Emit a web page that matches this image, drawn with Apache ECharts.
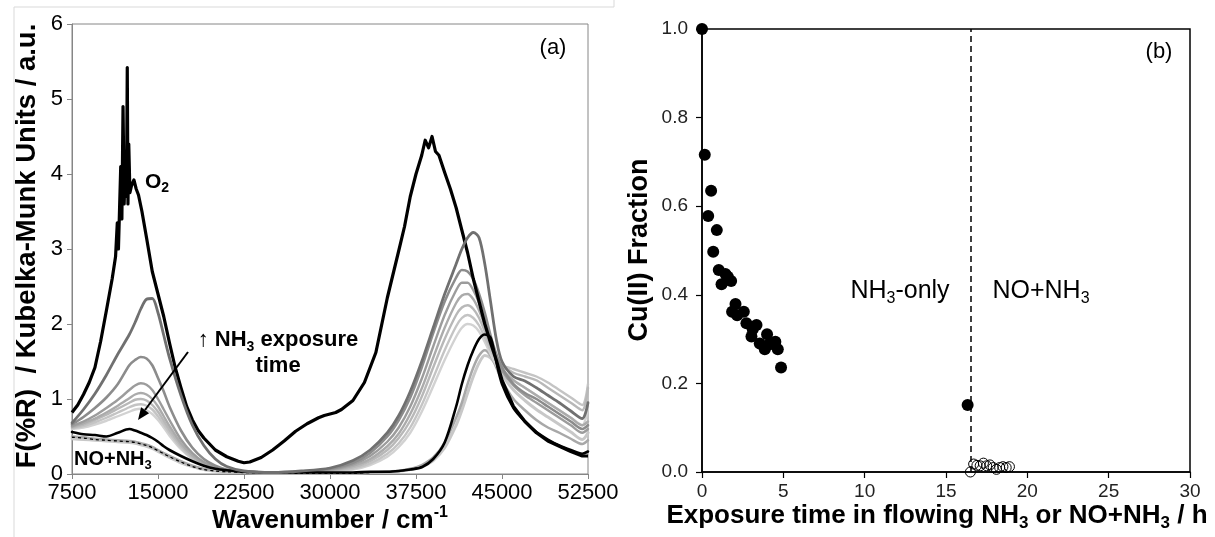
<!DOCTYPE html>
<html><head><meta charset="utf-8">
<script src="https://cdn.jsdelivr.net/npm/echarts@6/dist/echarts.min.js"></script>
<style>html,body{margin:0;padding:0;background:#fff}#c{width:1215px;height:537px}</style>
</head><body><div id="c"></div>
<script>
// ---------- Panel (a): diffuse reflectance spectra ----------
const wn = [7500, 8500, 9500, 10500, 11500, 12500, 13000, 13500, 14000, 14500, 15000, 15500, 16000, 17000, 18000, 19000, 20000, 21000, 22500, 25000, 27500, 30000, 32000, 33500, 35000, 36000, 37000, 38000, 39000, 40000, 41000, 41500, 42000, 42500, 43000, 43500, 44000, 44500, 45000, 46000, 47000, 48000, 49000, 50000, 51000, 52000, 52500];
const o2Wn = [7500, 8000, 8500, 9000, 9500, 10000, 10500, 11000, 11300, 11450, 11550, 11650, 11750, 11850, 11950, 12050, 12150, 12250, 12320, 12380, 12450, 12550, 12700, 12900, 13100, 13300, 13600, 14000, 14500, 15000, 15500, 16000, 16500, 17000, 17500, 18000, 18500, 19000, 19500, 20000, 21000, 22000, 22500, 23000, 24000, 25000, 26000, 27000, 28000, 29000, 29500, 30000, 30500, 31000, 32000, 33000, 34000, 35000, 36000, 36500, 37000, 37500, 38000, 38300, 38600, 38900, 39200, 39500, 40000, 40500, 41000, 41500, 42000, 42500, 43000, 43500, 44000, 44500, 45000, 46000, 47000, 48000, 49000, 50000, 51000, 52000, 52500];
const o2Val = [0.82, 0.92, 1.06, 1.22, 1.42, 1.77, 2.18, 2.60, 2.90, 3.35, 3.00, 3.55, 4.10, 3.40, 4.90, 3.60, 4.20, 3.70, 5.42, 3.60, 4.40, 3.75, 3.85, 3.92, 3.80, 3.72, 3.50, 3.15, 2.70, 2.40, 2.10, 1.75, 1.42, 1.15, 0.90, 0.72, 0.58, 0.48, 0.40, 0.32, 0.23, 0.17, 0.15, 0.16, 0.22, 0.32, 0.44, 0.57, 0.67, 0.75, 0.78, 0.80, 0.82, 0.86, 0.98, 1.22, 1.62, 2.35, 2.98, 3.30, 3.70, 4.00, 4.25, 4.45, 4.35, 4.50, 4.30, 4.25, 4.02, 3.80, 3.55, 3.25, 2.95, 2.60, 2.30, 2.00, 1.75, 1.52, 1.25, 0.90, 0.70, 0.55, 0.44, 0.37, 0.30, 0.24, 0.24];
const nh3t1 = [0.68, 0.86, 1.07, 1.32, 1.60, 1.86, 2.02, 2.20, 2.33, 2.34, 2.15, 1.85, 1.55, 1.05, 0.65, 0.38, 0.20, 0.10, 0.04, 0.02, 0.04, 0.08, 0.18, 0.32, 0.55, 0.78, 1.10, 1.50, 1.95, 2.40, 2.80, 3.00, 3.15, 3.22, 3.15, 2.80, 2.30, 1.80, 1.50, 1.30, 1.24, 1.15, 1.05, 0.95, 0.84, 0.74, 0.95];
const nh3t2 = [0.66, 0.76, 0.88, 1.02, 1.20, 1.45, 1.52, 1.56, 1.54, 1.45, 1.28, 1.10, 0.90, 0.58, 0.35, 0.20, 0.11, 0.06, 0.03, 0.02, 0.03, 0.07, 0.15, 0.28, 0.50, 0.72, 1.02, 1.42, 1.88, 2.30, 2.62, 2.72, 2.70, 2.60, 2.40, 2.15, 1.85, 1.60, 1.42, 1.20, 1.08, 1.00, 0.90, 0.80, 0.70, 0.60, 0.65];
const nh3t3 = [0.64, 0.70, 0.78, 0.88, 0.99, 1.12, 1.18, 1.21, 1.19, 1.12, 1.00, 0.86, 0.72, 0.46, 0.28, 0.16, 0.09, 0.05, 0.03, 0.02, 0.03, 0.06, 0.13, 0.24, 0.43, 0.62, 0.90, 1.27, 1.70, 2.12, 2.45, 2.55, 2.55, 2.45, 2.28, 2.05, 1.78, 1.55, 1.38, 1.18, 1.05, 0.95, 0.85, 0.75, 0.65, 0.55, 0.60];
const nh3t4 = [0.63, 0.68, 0.74, 0.82, 0.91, 1.01, 1.06, 1.08, 1.06, 1.00, 0.90, 0.77, 0.64, 0.41, 0.25, 0.14, 0.08, 0.05, 0.03, 0.02, 0.03, 0.05, 0.11, 0.20, 0.37, 0.54, 0.80, 1.14, 1.55, 1.95, 2.28, 2.38, 2.40, 2.33, 2.18, 1.98, 1.74, 1.55, 1.40, 1.25, 1.15, 1.05, 0.95, 0.85, 0.75, 0.65, 0.70];
const nh3t5 = [0.62, 0.66, 0.72, 0.79, 0.87, 0.95, 0.99, 1.00, 0.98, 0.92, 0.83, 0.71, 0.59, 0.38, 0.23, 0.13, 0.07, 0.04, 0.03, 0.02, 0.02, 0.04, 0.09, 0.17, 0.32, 0.48, 0.71, 1.03, 1.42, 1.80, 2.12, 2.22, 2.25, 2.20, 2.08, 1.90, 1.70, 1.55, 1.45, 1.35, 1.30, 1.25, 1.15, 1.05, 0.95, 0.85, 1.15];
const nh3t6 = [0.61, 0.64, 0.69, 0.75, 0.82, 0.89, 0.92, 0.93, 0.91, 0.86, 0.77, 0.66, 0.55, 0.35, 0.21, 0.12, 0.07, 0.04, 0.03, 0.02, 0.02, 0.03, 0.07, 0.14, 0.27, 0.41, 0.62, 0.92, 1.28, 1.65, 1.97, 2.08, 2.12, 2.08, 1.98, 1.82, 1.65, 1.52, 1.45, 1.40, 1.35, 1.30, 1.22, 1.12, 1.02, 0.92, 1.20];
const nh3t7 = [0.60, 0.62, 0.66, 0.71, 0.77, 0.83, 0.86, 0.87, 0.85, 0.80, 0.72, 0.62, 0.51, 0.33, 0.20, 0.11, 0.06, 0.04, 0.03, 0.02, 0.02, 0.03, 0.06, 0.12, 0.23, 0.36, 0.55, 0.83, 1.17, 1.52, 1.83, 1.95, 2.00, 1.98, 1.90, 1.76, 1.60, 1.45, 1.35, 1.25, 1.15, 1.05, 0.95, 0.85, 0.75, 0.65, 0.90];
const noA = [0.50, 0.49, 0.47, 0.46, 0.45, 0.44, 0.43, 0.41, 0.39, 0.36, 0.32, 0.28, 0.24, 0.17, 0.11, 0.07, 0.05, 0.03, 0.02, 0.01, 0.01, 0.01, 0.01, 0.02, 0.03, 0.04, 0.07, 0.12, 0.22, 0.42, 0.75, 0.95, 1.20, 1.42, 1.58, 1.65, 1.58, 1.42, 1.25, 1.00, 0.85, 0.72, 0.62, 0.55, 0.47, 0.40, 0.45];
const noB = [0.47, 0.46, 0.45, 0.44, 0.43, 0.42, 0.41, 0.39, 0.37, 0.34, 0.30, 0.26, 0.22, 0.15, 0.10, 0.06, 0.04, 0.03, 0.02, 0.01, 0.01, 0.01, 0.01, 0.02, 0.03, 0.04, 0.06, 0.10, 0.18, 0.35, 0.65, 0.85, 1.08, 1.30, 1.48, 1.58, 1.55, 1.45, 1.32, 1.12, 0.98, 0.86, 0.76, 0.66, 0.56, 0.46, 0.55];
const noDash = [0.49, 0.48, 0.46, 0.45, 0.44, 0.43, 0.42, 0.40, 0.38, 0.35, 0.31, 0.27, 0.23, 0.16, 0.10, 0.06, 0.04, 0.03, 0.02, 0.01, 0.01, 0.01, 0.01, 0.02, 0.03, 0.04, 0.06, 0.10, null, null, null, null, null, null, null, null, null, null, null, null, null, null, null, null, null, null, null];
const noNh3 = [0.56, 0.53, 0.52, 0.50, 0.55, 0.60, 0.58, 0.55, 0.52, 0.48, 0.43, 0.37, 0.32, 0.24, 0.17, 0.11, 0.07, 0.05, 0.03, 0.02, 0.02, 0.02, 0.02, 0.03, 0.03, 0.04, 0.06, 0.09, 0.20, 0.42, 0.90, 1.20, 1.45, 1.65, 1.80, 1.86, 1.82, 1.50, 1.20, 0.88, 0.70, 0.56, 0.46, 0.38, 0.32, 0.27, 0.30];
const xTicksA = [7500, 15000, 22500, 30000, 37500, 45000, 52500];
const yTicksA = [0, 1, 2, 3, 4, 5, 6];

// ---------- Panel (b): Cu(II) fraction ----------
const nh3Time = [0, 0.17, 0.56, 0.38, 0.91, 0.69, 1.03, 1.20, 1.44, 1.59, 1.79, 1.85, 2.06, 2.16, 2.57, 2.73, 3.04, 3.12, 3.35, 3.55, 3.86, 4.00, 4.10, 4.51, 4.66, 4.86, 16.33];
const nh3Frac = [1.0, 0.716, 0.635, 0.578, 0.546, 0.497, 0.456, 0.424, 0.447, 0.441, 0.431, 0.362, 0.379, 0.354, 0.362, 0.336, 0.306, 0.322, 0.332, 0.290, 0.277, 0.311, 0.287, 0.294, 0.277, 0.236, 0.151];
const noTime = [16.5, 16.7, 16.9, 17.1, 17.3, 17.5, 17.7, 17.9, 18.1, 18.3, 18.5, 18.7, 18.9];
const noFrac = [0.0, 0.018, 0.015, 0.014, 0.020, 0.014, 0.016, 0.010, 0.006, 0.010, 0.012, 0.010, 0.012];
const switchTime = 16.5;
const xTicksB = [0, 5, 10, 15, 20, 25, 30];
const yTicksB = [0, 0.2, 0.4, 0.6, 0.8, 1.0];

const FONT = '"Liberation Sans", Arial, Helvetica, sans-serif';
const pair = (xs, ys) => xs.map((x, i) => [x, ys[i]]);

function spec(arr, color, width, extra) {
  return Object.assign({
    type: 'line', xAxisIndex: 0, yAxisIndex: 0, data: pair(wn, arr),
    showSymbol: false, symbol: 'none', smooth: 0.3, silent: true, animation: false,
    connectNulls: false,
    lineStyle: { color: color, width: width, join: 'round', cap: 'round' }
  }, extra || {});
}

const chart = echarts.init(document.getElementById('c'), null, { renderer: 'canvas' });

const subRich = (size) => ({
  b: { fontFamily: FONT, fontWeight: 'bold', fontSize: size, lineHeight: size + 6, color: '#000' },
  s: { fontFamily: FONT, fontWeight: 'bold', fontSize: Math.round(size * 0.65), lineHeight: Math.round(size * 0.65), verticalAlign: 'bottom', color: '#000' },
  r: { fontFamily: FONT, fontSize: size, lineHeight: size + 6, color: '#000' },
  rs: { fontFamily: FONT, fontSize: Math.round(size * 0.65), lineHeight: Math.round(size * 0.65), verticalAlign: 'bottom', color: '#000' },
  sup: { fontFamily: FONT, fontWeight: 'bold', fontSize: Math.round(size * 0.62), lineHeight: Math.round(size * 0.62), verticalAlign: 'top', color: '#000' },
  a: { fontFamily: FONT, fontSize: size, lineHeight: size + 6, color: '#000' }
});

function txt(x, y, text, size, opts) {
  opts = opts || {};
  return {
    type: 'text', x: x, y: y, rotation: opts.rot || 0, silent: true, z: 100,
    style: {
      text: text, rich: subRich(size), font: (opts.bold ? 'bold ' : '') + size + 'px ' + FONT,
      fill: '#000', align: opts.align || 'center', verticalAlign: 'middle'
    }
  };
}

const option = {
  animation: false,
  backgroundColor: '#fff',
  grid: [
    { left: 72, top: 24, width: 516, height: 450, show: true, borderColor: '#868686', borderWidth: 1, backgroundColor: 'transparent' },
    { left: 702, top: 29, width: 488, height: 443, show: true, borderColor: '#000', borderWidth: 1.5, backgroundColor: 'transparent' }
  ],
  xAxis: [
    { gridIndex: 0, type: 'value', min: xTicksA[0], max: xTicksA[xTicksA.length - 1], interval: 7500,
      axisLine: { show: true, lineStyle: { color: '#868686', width: 1 } },
      axisTick: { show: true, length: 5, lineStyle: { color: '#868686' } },
      axisLabel: { fontFamily: FONT, fontSize: 22, color: '#000', margin: 8, formatter: v => String(v) },
      splitLine: { show: false } },
    { gridIndex: 1, type: 'value', min: xTicksB[0], max: xTicksB[xTicksB.length - 1], interval: 5,
      axisLine: { show: true, lineStyle: { color: '#000', width: 1.5 } },
      axisTick: { show: true, length: 6, lineStyle: { color: '#000', width: 1.2 } },
      axisLabel: { fontFamily: FONT, fontSize: 19, color: '#222', margin: 10, formatter: v => String(v) },
      splitLine: { show: false } }
  ],
  yAxis: [
    { gridIndex: 0, type: 'value', min: yTicksA[0], max: yTicksA[yTicksA.length - 1], interval: 1,
      axisLine: { show: true, lineStyle: { color: '#868686', width: 1 } },
      axisTick: { show: true, length: 5, lineStyle: { color: '#868686' } },
      axisLabel: { fontFamily: FONT, fontSize: 22, color: '#000', margin: 9 },
      splitLine: { show: false } },
    { gridIndex: 1, type: 'value', min: yTicksB[0], max: yTicksB[yTicksB.length - 1], interval: 0.2,
      axisLine: { show: true, lineStyle: { color: '#000', width: 1.5 } },
      axisTick: { show: true, length: 6, lineStyle: { color: '#000', width: 1.2 } },
      axisLabel: { fontFamily: FONT, fontSize: 19, color: '#222', margin: 14, formatter: v => v.toFixed(1) },
      splitLine: { show: false } }
  ],
  series: [
    spec(noB, '#c8c8c8', 3),
    spec(noA, '#a8a8a8', 2.5),
    spec(nh3t7, '#d2d2d2', 2.4),
    spec(nh3t6, '#c4c4c4', 2.4),
    spec(nh3t5, '#b8b8b8', 2.4),
    spec(nh3t4, '#ababab', 2.4),
    spec(nh3t3, '#9c9c9c', 2.4),
    spec(nh3t2, '#8c8c8c', 2.6),
    spec(noDash, '#000', 1.3, { lineStyle: { color: '#000', width: 1.3, type: [3, 3] } }),
    spec(noNh3, '#000', 2.6),
    { type: 'line', xAxisIndex: 0, yAxisIndex: 0, data: pair(o2Wn, o2Val), showSymbol: false, symbol: 'none',
      smooth: false, silent: true, animation: false, lineStyle: { color: '#000', width: 3.2, join: 'round' } },
    spec(nh3t1, '#707070', 2.8),
    { type: 'scatter', xAxisIndex: 1, yAxisIndex: 1, data: pair(nh3Time, nh3Frac), symbol: 'circle', symbolSize: 12,
      itemStyle: { color: '#000', opacity: 1 }, clip: false, silent: true, animation: false, z: 5 },
    { type: 'scatter', xAxisIndex: 1, yAxisIndex: 1, data: pair(noTime, noFrac), symbol: 'circle', symbolSize: 10,
      itemStyle: { color: 'rgba(0,0,0,0)', borderColor: '#000', borderWidth: 1, opacity: 1 }, clip: false, silent: true, animation: false, z: 5,
      markLine: { silent: true, symbol: 'none', animation: false, label: { show: false },
        lineStyle: { color: '#000', width: 1.5, type: [6, 4] }, data: [{ xAxis: switchTime }] } }
  ],
  graphic: [
    { type: 'polyline', silent: true, z: 0, shape: { points: [[14, 537], [14, 7], [614, 7], [614, 0]] }, style: { stroke: '#d9d9d9', lineWidth: 1, fill: null } },
    txt(553, 48, '{a|(a)}', 22),
    txt(145, 182, '{b|O}{s|2}', 21, { align: 'left' }),
    txt(278, 340, '{a|↑ }{b|NH}{s|3}{b| exposure}', 22),
    txt(278, 366, '{b|time}', 22),
    txt(74, 459, '{b|NO+NH}{s|3}', 20, { align: 'left' }),
    txt(27, 246, '{b|F(%R)  / Kubelka-Munk Units / a.u.}', 27.5, { rot: Math.PI / 2 }),
    txt(330, 521, '{b|Wavenumber / cm}{sup|-1}', 26),
    { type: 'line', silent: true, z: 100, shape: { x1: 188, y1: 352, x2: 145, y2: 410 }, style: { stroke: '#000', lineWidth: 2 } },
    { type: 'polygon', silent: true, z: 100, shape: { points: [[138, 420], [149.1, 413.3], [141.1, 407.3]] }, style: { fill: '#000' } },
    txt(1159, 52, '{a|(b)}', 22),
    txt(900, 291, '{r|NH}{rs|3}{r|-only}', 25),
    txt(1041, 291, '{r|NO+NH}{rs|3}', 25),
    txt(640, 250, '{b|Cu(II) Fraction}', 27, { rot: Math.PI / 2 }),
    txt(937, 516, '{b|Exposure time in flowing NH}{s|3}{b| or NO+NH}{s|3}{b| / h}', 26)
  ]
};
chart.setOption(option);
</script></body></html>
